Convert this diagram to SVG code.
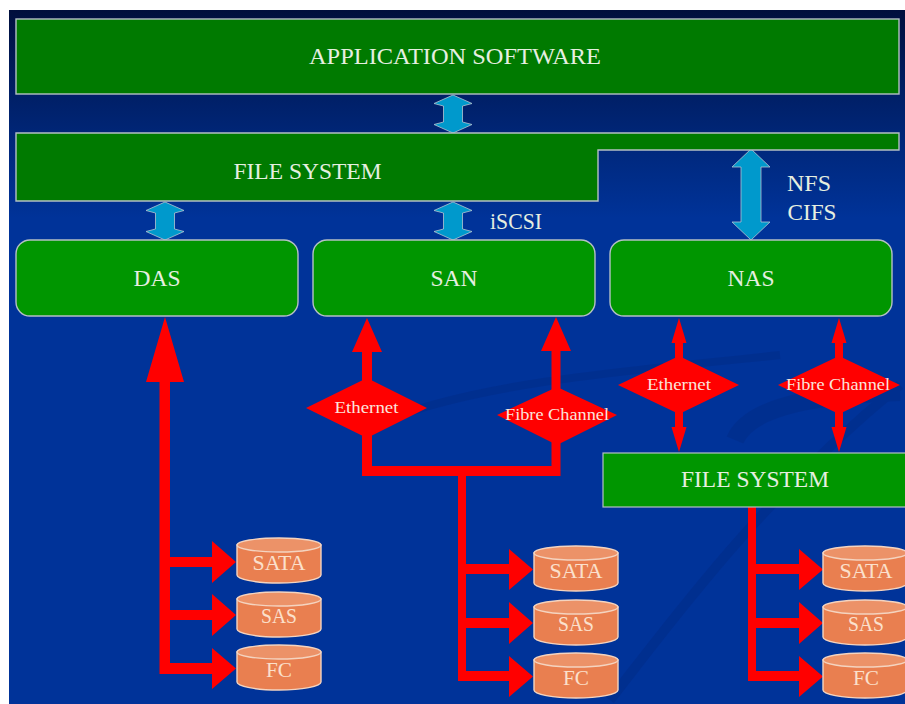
<svg xmlns="http://www.w3.org/2000/svg" width="905" height="704" viewBox="0 0 905 704">
<style>
text{font-family:"Liberation Serif","Times New Roman",serif;fill:#e6efe0;text-anchor:middle}
.t{font-size:23px}
.s{font-size:16.5px;fill:#fbe4dc}
.c{font-size:21px;fill:#fbe0cc}
.box{fill:#007a00;stroke:#b4c0c4;stroke-width:1.4}
.rnd{fill:#009600;stroke:#b4c0c4;stroke-width:1.4}
.blue{fill:#0099cc;stroke:#b4c4d0;stroke-width:0.8}
.red{fill:#ff0000}
.cyl{fill:#e97f50;stroke:#f4d4c0;stroke-width:1.4}
.top{fill:#ec9268;stroke:#f4d4c0;stroke-width:1.4}
</style>
<defs>
<linearGradient id="bg" x1="0" y1="0" x2="0" y2="1">
<stop offset="0" stop-color="#000f3c"/><stop offset="0.12" stop-color="#001f66"/><stop offset="0.3" stop-color="#003399"/><stop offset="1" stop-color="#003399"/>
</linearGradient>
<g id="cylinder">
<path class="cyl" d="M0,8V38A42,8 0 0 0 84,38V8Z"/>
<ellipse class="top" cx="42" cy="8" rx="42" ry="7"/>
</g>
</defs>
<rect width="905" height="704" fill="#fff"/>
<rect x="9" y="10" width="896" height="694" fill="url(#bg)"/>
<g fill="none" stroke="#00297f" opacity="0.35">
<path d="M610,700C680,610 760,500 900,385" stroke-width="10"/>
<path d="M735,440C750,405 820,395 900,392" stroke-width="18"/>
<path d="M400,415C500,380 640,370 780,355" stroke-width="8"/>
</g>

<g id="connectors">
<g id="blue-arrows">
<path class="blue" d="M453,95L472,103.500L462.500,106V122L472,124.500L453,133L434,124.500L443.500,122V106L434,103.500Z"/>
<path class="blue" d="M165,202L184,210.500L174.500,213V229L184,231.500L165,240L146,231.500L155.500,229V213L146,210.500Z"/>
<path class="blue" d="M453,202L472,210.500L462.500,213V229L472,231.500L453,240L434,231.500L443.500,229V213L434,210.500Z"/>
<path class="blue" d="M751,149L770,167H761V222H770L751,240L732,222H741V167H732Z"/>
</g>
<g id="das-links" class="red">
<path d="M165,317L184,382H170V557H212V541L236,562L212,583V567H170V610H212V594L236,615L212,636V620H170V663H212V648L236,668.500L212,689V674H159.500V382H146Z"/>
</g>
<g id="san-links" class="red">
<path d="M367,318L382,352H372V466H551.500V351H541L556,317L571,351H560.500V476H466V564H509V549L533,569.500L509,590V574H466V618H509V602L533,623L509,644V628H466V671H509V656L533,676.500L509,697V681H458V476H362V352H352Z"/>
</g>
<g id="nas-links" class="red">
<path d="M679,318L686.500,343H683V427H686.500L679,452L671.500,427H675V343H671.500Z"/>
<path d="M839,318L846.500,343H843V427H846.500L839,452L831.500,427H835V343H831.500Z"/>
<path d="M748,507H756V564H799V549L823,569.500L799,590V574H756V618H799V602L823,623L799,644V628H756V671H799V656L823,676.500L799,697V681H748Z"/>
</g>
</g>

<g id="application-software">
<rect class="box" x="16" y="19" width="883" height="75"/>
<text class="t" x="455" y="64" textLength="292" lengthAdjust="spacingAndGlyphs">APPLICATION SOFTWARE</text>
</g>
<g id="file-system-top">
<path class="box" d="M16,133H899V150H598V201H16Z"/>
<text class="t" x="307.500" y="179" textLength="148" lengthAdjust="spacingAndGlyphs">FILE SYSTEM</text>
</g>
<g id="das">
<rect class="rnd" x="16" y="240" width="282" height="76" rx="14"/>
<text class="t" x="157" y="286" textLength="47" lengthAdjust="spacingAndGlyphs">DAS</text>
</g>
<g id="san">
<rect class="rnd" x="313" y="240" width="282" height="76" rx="14"/>
<text class="t" x="454" y="286" textLength="47" lengthAdjust="spacingAndGlyphs">SAN</text>
</g>
<g id="nas">
<rect class="rnd" x="610" y="240" width="282" height="76" rx="14"/>
<text class="t" x="751" y="286" textLength="47" lengthAdjust="spacingAndGlyphs">NAS</text>
</g>
<g id="iscsi"><text class="t" x="516" y="229" textLength="52" lengthAdjust="spacingAndGlyphs">iSCSI</text></g>
<g id="nfs"><text class="t" x="809" y="191" textLength="44" lengthAdjust="spacingAndGlyphs">NFS</text></g>
<g id="cifs"><text class="t" x="812" y="220" textLength="49" lengthAdjust="spacingAndGlyphs">CIFS</text></g>

<g id="san-ethernet">
<path class="red" d="M306,408L367,378L427,408L367,438Z"/>
<text class="s" x="366.500" y="413" textLength="64" lengthAdjust="spacingAndGlyphs">Ethernet</text>
</g>
<g id="san-fibre">
<path class="red" d="M497,415L557,387L617,415L557,445Z"/>
<text class="s" x="557" y="420" textLength="104" lengthAdjust="spacingAndGlyphs">Fibre Channel</text>
</g>
<g id="nas-ethernet">
<path class="red" d="M618,385L679,356L739,385L679,414Z"/>
<text class="s" x="679" y="390" textLength="64" lengthAdjust="spacingAndGlyphs">Ethernet</text>
</g>
<g id="nas-fibre">
<path class="red" d="M778,385L839,356L900,385L839,414Z"/>
<text class="s" x="838" y="390" textLength="104" lengthAdjust="spacingAndGlyphs">Fibre Channel</text>
</g>
<g id="file-system-nas">
<rect x="603" y="453" width="304" height="54" fill="#009600" stroke="#b4c0c4" stroke-width="1.2"/>
<text class="t" x="755" y="487" textLength="148" lengthAdjust="spacingAndGlyphs">FILE SYSTEM</text>
</g>

<g id="das-sata"><use href="#cylinder" x="237" y="537"/><text class="c" x="279" y="570" textLength="53" lengthAdjust="spacingAndGlyphs">SATA</text></g>
<g id="das-sas"><use href="#cylinder" x="237" y="591"/><text class="c" x="279" y="623" textLength="36" lengthAdjust="spacingAndGlyphs">SAS</text></g>
<g id="das-fc"><use href="#cylinder" x="237" y="644"/><text class="c" x="279" y="677" textLength="26" lengthAdjust="spacingAndGlyphs">FC</text></g>
<g id="san-sata"><use href="#cylinder" x="534" y="545"/><text class="c" x="576" y="578" textLength="53" lengthAdjust="spacingAndGlyphs">SATA</text></g>
<g id="san-sas"><use href="#cylinder" x="534" y="599"/><text class="c" x="576" y="631" textLength="36" lengthAdjust="spacingAndGlyphs">SAS</text></g>
<g id="san-fc"><use href="#cylinder" x="534" y="652"/><text class="c" x="576" y="685" textLength="26" lengthAdjust="spacingAndGlyphs">FC</text></g>
<g id="nas-sata"><use href="#cylinder" x="823" y="545"/><text class="c" x="866" y="578" textLength="53" lengthAdjust="spacingAndGlyphs">SATA</text></g>
<g id="nas-sas"><use href="#cylinder" x="823" y="599"/><text class="c" x="866" y="631" textLength="36" lengthAdjust="spacingAndGlyphs">SAS</text></g>
<g id="nas-fc"><use href="#cylinder" x="823" y="652"/><text class="c" x="866" y="685" textLength="26" lengthAdjust="spacingAndGlyphs">FC</text></g>
</svg>
